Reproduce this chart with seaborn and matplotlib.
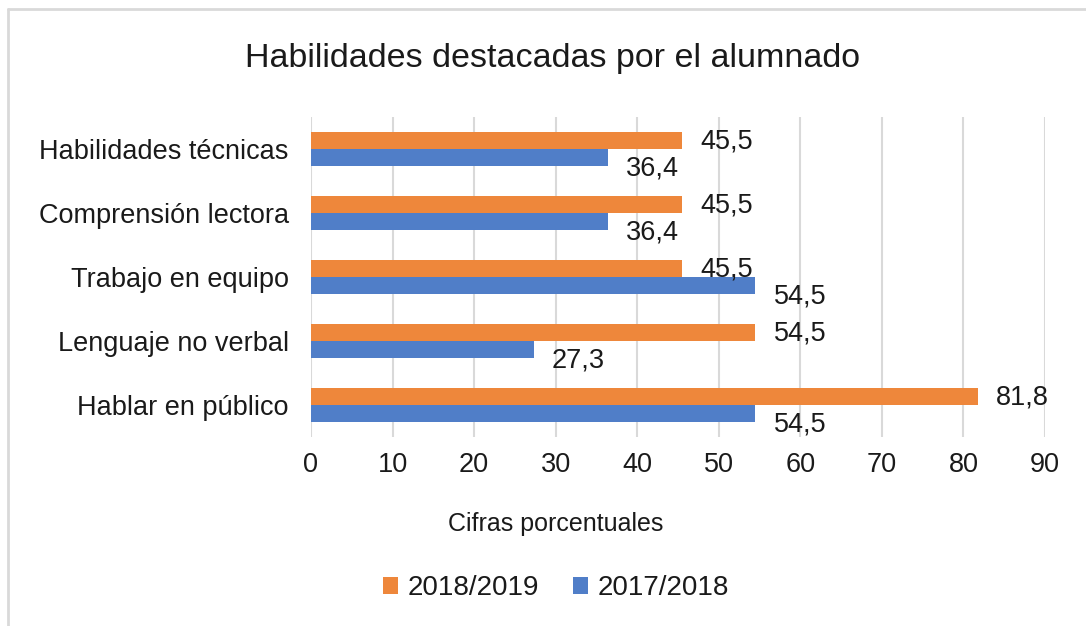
import matplotlib
matplotlib.use('Agg')
import matplotlib.pyplot as plt
from matplotlib.lines import Line2D
from matplotlib.patches import Patch
import pandas as pd
import seaborn as sns

# data
categories = ['Habilidades técnicas', 'Comprensión lectora', 'Trabajo en equipo',
              'Lenguaje no verbal', 'Hablar en público']
series_names = ['2018/2019', '2017/2018']
values_2018_2019 = [45.5, 45.5, 45.5, 54.5, 81.8]
values_2017_2018 = [36.4, 36.4, 54.5, 27.3, 54.5]
x_ticks = [0, 10, 20, 30, 40, 50, 60, 70, 80, 90]
colors = ['#EE873B', '#507EC8']

df = pd.DataFrame({
    'Habilidad': categories * 2,
    'Curso': [series_names[0]] * 5 + [series_names[1]] * 5,
    'Valor': values_2018_2019 + values_2017_2018,
})

sns.set_style('white')
plt.rcParams['font.family'] = ['Liberation Sans', 'DejaVu Sans']
txt_color = '#1a1a1a'

fig = plt.figure(figsize=(10.86, 6.26), dpi=100)
ax = fig.add_axes([311 / 1086, 189 / 626, 734 / 1086, 320 / 626])

sns.barplot(data=df, y='Habilidad', x='Valor', hue='Curso', order=categories,
            hue_order=series_names, palette=colors, saturation=1, width=0.54,
            orient='h', ax=ax, legend=False, linewidth=0)

ax.set_xlim(0, 90)
ax.set_ylim(4.5, -0.5)
ax.set_xticks(x_ticks)
ax.grid(axis='x', color='#D9D9D9', linewidth=1.5)
ax.set_axisbelow(True)
for s in ax.spines.values():
    s.set_visible(False)
ax.tick_params(axis='both', length=0, labelsize=19.5, colors=txt_color)
ax.tick_params(axis='y', pad=16)
ax.tick_params(axis='x', pad=11)
ax.set_ylabel('')
ax.set_xlabel('Cifras porcentuales', fontsize=18, color=txt_color)
ax.xaxis.set_label_coords((556 - 311) / 734, -0.235)

# data labels with comma decimal separator
offsets = [-1, -8]
for cont, dy in zip(ax.containers, offsets):
    for bar in cont:
        w = bar.get_width()
        yc = bar.get_y() + bar.get_height() / 2
        ax.annotate(f'{w:.1f}'.replace('.', ','), xy=(w, yc),
                    xytext=(13, dy), textcoords='offset points',
                    ha='left', va='center', fontsize=19.5, color=txt_color)

fig.text(553 / 1086, 1 - 58 / 626, 'Habilidades destacadas por el alumnado',
         ha='center', va='center', fontsize=24.5, color=txt_color)

handles = [Patch(facecolor=c, edgecolor='none') for c in colors]
fig.legend(handles, series_names, loc='center', bbox_to_anchor=(556 / 1086, 1 - 588 / 626),
           ncol=2, frameon=False, fontsize=20, handlelength=0.55, handleheight=0.55,
           handletextpad=0.35, columnspacing=1.2, labelcolor=txt_color)

# outer chart border (top and left visible)
fig.add_artist(Line2D([8 / 1086, 8 / 1086], [0, 1 - 9 / 626], transform=fig.transFigure,
                      color='#D9D9D9', linewidth=2))
fig.add_artist(Line2D([8 / 1086, 1], [1 - 9 / 626, 1 - 9 / 626], transform=fig.transFigure,
                      color='#D9D9D9', linewidth=2))

plt.savefig('out.png', dpi=100)
plt.close()
